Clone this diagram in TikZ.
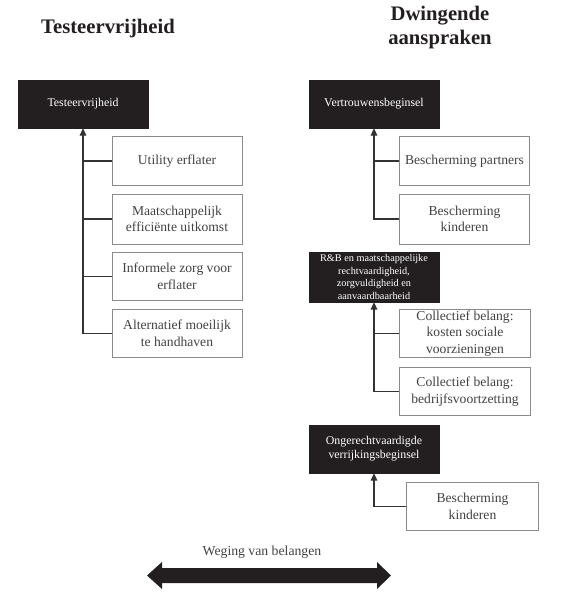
\documentclass[tikz,border=0pt]{standalone}
\usepackage{fontspec}
\setmainfont{Liberation Serif}
\usetikzlibrary{arrows.meta}
\definecolor{boxblack}{HTML}{231F20}
\definecolor{linegray}{HTML}{333333}
\definecolor{bordergray}{HTML}{8A8A8A}
\begin{document}
\begin{tikzpicture}[x=0.75pt,y=-0.75pt,
  blackbox/.style={fill=boxblack,draw=boxblack,text=white,align=center,
    minimum width=97.5pt,minimum height=36pt,inner sep=1pt,
    font=\fontsize{8.9}{10.5}\selectfont},
  smallblack/.style={blackbox,minimum height=37.5pt,font=\fontsize{7.7}{9.3}\selectfont},
  whitebox/.style={draw=bordergray,line width=0.6pt,fill=white,text=boxblack!85,align=center,
    minimum width=97.5pt,minimum height=36.5pt,inner sep=1pt,
    font=\fontsize{10.2}{12.5}\selectfont},
  titletext/.style={align=center,font=\fontsize{15.5}{18}\selectfont\bfseries,text=boxblack},
  conn/.style={draw=linegray,line width=0.8pt},
  arr/.style={conn,-{Triangle[length=5.5pt,width=5pt]}}
]
\useasboundingbox (0,0) rectangle (564,600);

% titles
\node[titletext] (t1) at (108,29) {Testeervrijheid};
\node[titletext] (t2) at (440,28) {Dwingende\\aanspraken};

% left column
\node[blackbox] (T) at (83,104) {Testeervrijheid};
\node[whitebox] (L1) at (177,161) {Utility erflater};
\node[whitebox,minimum height=37.5pt] (L2) at (177,219) {Maatschappelijk\\efficiënte uitkomst};
\node[whitebox] (L3) at (177,276.5) {Informele zorg voor\\erflater};
\node[whitebox] (L4) at (177,333.5) {Alternatief moeilijk\\te handhaven};

\draw[arr] (L4.west) -| (T.south);
\foreach \b in {L1,L2,L3} \draw[conn] (\b.west) -- (\b.west -| T.south);

% right column
\node[blackbox] (V) at (374,104) {Vertrouwensbeginsel};
\node[whitebox,minimum width=98pt] (R1) at (464.5,161) {Bescherming partners};
\node[whitebox,minimum width=98pt,minimum height=37.5pt] (R2) at (464.5,219) {Bescherming\\kinderen};
\draw[arr] (R2.west) -| (V.south);
\draw[conn] (R1.west) -- (R1.west -| V.south);

\node[smallblack] (RB) at (374,277) {R\&B en maatschappelijke\\rechtvaardigheid,\\zorgvuldigheid en\\aanvaardbaarheid};
\node[whitebox,minimum width=98.5pt] (R3) at (465,333.5) {Collectief belang:\\kosten sociale\\voorzieningen};
\node[whitebox,minimum width=98.5pt] (R4) at (465,391.5) {Collectief belang:\\bedrijfsvoortzetting};
\draw[arr] (R4.west) -| (RB.south);
\draw[conn] (R3.west) -- (R3.west -| RB.south);

\node[blackbox] (O) at (374,449) {Ongerechtvaardigde\\verrijkingsbeginsel};
\node[whitebox,minimum width=98.5pt] (R5) at (472.5,506.5) {Bescherming\\kinderen};
\draw[arr] (R5.west) -| (O.south);

% weighing arrow
\node[font=\fontsize{10.3}{12}\selectfont,text=boxblack!85] (wl) at (262,552) {Weging van belangen};
\coordinate (wa) at (147,575.5);
\coordinate (wb) at (391,575.5);
\fill[boxblack] (wa) -- (162,562) -- (162,568) -- (377,568) -- (377,562) -- (wb)
  -- (377,589) -- (377,583) -- (162,583) -- (162,589) -- cycle;
\end{tikzpicture}
\end{document}
